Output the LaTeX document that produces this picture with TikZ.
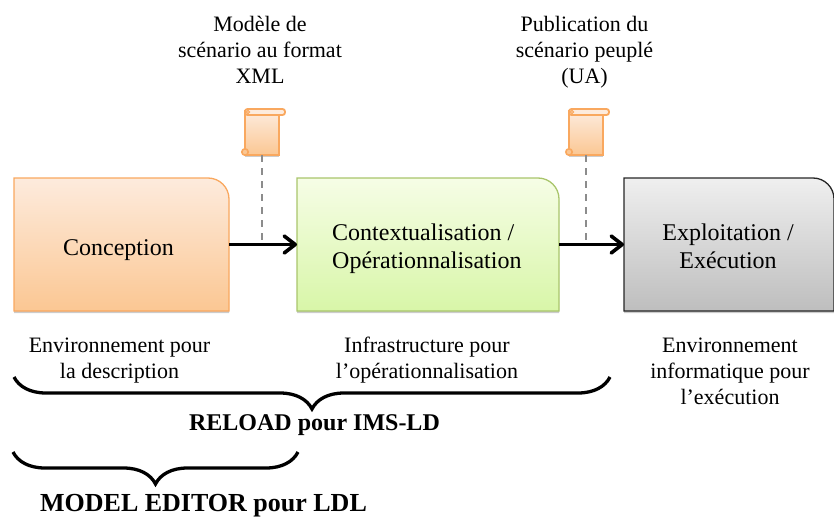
\documentclass[tikz,border=0pt]{standalone}
\usepackage{fontspec}
\setmainfont{Liberation Serif}
\usetikzlibrary{arrows.meta,positioning,shadows,decorations.pathreplacing}
\definecolor{orangeline}{HTML}{F9A85F}
\definecolor{orangetop}{HTML}{FDEBDD}
\definecolor{orangebot}{HTML}{FBC793}
\definecolor{greenline}{HTML}{A9C56B}
\definecolor{greentop}{HTML}{F6FDE6}
\definecolor{greenbot}{HTML}{D8F6A8}
\definecolor{greytop}{HTML}{EFEFEF}
\definecolor{greybot}{HTML}{BEBEBE}
\tikzset{%
stagebox/.style={
    rectangle, minimum height=133pt, inner sep=0pt, outer sep=0pt
},
stagetext/.style={
    align=center, inner sep=0pt,
    font=\fontsize{24}{28}\selectfont
},
captiontext/.style={
    align=center, inner sep=0pt,
    font=\fontsize{22}{26}\selectfont
},
toolname/.style={
    align=center, inner sep=0pt,
    font=\fontsize{24}{28}\selectfont\bfseries
},
flow/.style={
    line width=3.3pt, -{Straight Barb[length=11pt,width=17pt,line width=3.6pt,round]}
},
guide/.style={
    line width=2pt, dash pattern=on 7pt off 6pt, black!45
},
toolbrace/.style={
    line width=3.3pt, decorate,
    decoration={brace, mirror, amplitude=32pt, aspect=0.5}
},
softshadow/.style={
    drop shadow={shadow xshift=0pt, shadow yshift=-2pt, opacity=0.2, fill=black}
},
scrollicon/.pic={
    \draw [line width=1.8pt, orangeline, top color=orangetop, bottom color=orangebot, softshadow]
        (0,2) -- (34,2) -- (34,46) -- (0,46) -- cycle;
    \draw [line width=1.8pt, orangeline, fill=orangetop, rounded corners=2.5pt]
        (0,0) rectangle (40,6);
    \draw [line width=1.1pt, orangeline, fill=orangetop] (3,3) circle [radius=1.6pt];
    \draw [line width=1.6pt, orangeline, fill=orangebot] (0,43) circle [radius=3.2pt];
    \coordinate (-foot) at (16.5,46);
},
}
% outline of a stage, only the top right corner is round
\newcommand{\stageshape}[4]{
\draw [line width=1.3pt, draw=#2, top color=#3, bottom color=#4, softshadow]
    (#1.south west) -- (#1.north west) -- ([xshift=-21pt]#1.north east)
    arc [start angle=90, end angle=0, radius=21pt] -- (#1.south east) -- cycle;
}

\begin{document}
\begin{tikzpicture}[x=1pt,y=-1pt]
\useasboundingbox (0,0) rectangle (834,516);

\node (conception) [stagebox, minimum width=215pt] at (121.5,244.5) {};
\node (contextualisation) [stagebox, minimum width=262pt, right=68pt of conception] {};
\node (exploitation) [stagebox, minimum width=210pt, right=65pt of contextualisation] {};
\stageshape{conception}{orangeline}{orangetop}{orangebot}
\stageshape{contextualisation}{greenline}{greentop}{greenbot}
\stageshape{exploitation}{black!85}{greytop}{greybot}

\node (conception-label) [stagetext, xshift=-3pt, yshift=-5.5pt] at (conception) {Conception};
\node (contextualisation-label) [stagetext, align=left, anchor=west, xshift=35pt, yshift=-4pt] at (contextualisation.west) {Contextualisation /\\Opérationnalisation};
\node (exploitation-label) [stagetext, xshift=-1pt, yshift=-1.5pt] at (exploitation) {Exploitation /\\Exécution};

% scrolls above the arrows
\pic (scrollxml) at (245,109) {scrollicon};
\pic (scrollua) at (569,109) {scrollicon};
\draw [guide] (scrollxml-foot) -- (scrollxml-foot |- conception.east);
\draw [guide] (scrollua-foot) -- (scrollua-foot |- conception.east);
\draw [flow] (conception.east) -- (contextualisation.west);
\draw [flow] (contextualisation.east) -- (exploitation.west);

\node (xml-label) [captiontext] at (260,50) {Modèle de\\scénario au format\\XML};
\node (ua-label) [captiontext] at (584.5,52) {Publication du\\scénario peuplé\\(UA)};

\node (description-label) [captiontext] at (119.5,361) {Environnement pour\\la description};
\node (infra-label) [captiontext] at (427,360) {Infrastructure pour\\l’opérationnalisation};
\node (execution-label) [captiontext] at (730,371) {Environnement\\informatique pour\\l’exécution};

% braces
\coordinate (reload-a) at (14,377);
\coordinate (reload-b) at (610,377);
\coordinate (model-a) at (13,452);
\coordinate (model-b) at (298,452);
\draw [toolbrace] (reload-a) -- (reload-b);
\draw [toolbrace] (model-a) -- (model-b);
\node (reload-label) [toolname] at (314.5,425) {RELOAD pour IMS-LD};
\node (model-label) [toolname, font=\fontsize{26}{30}\selectfont\bfseries] at (203.5,506) {MODEL EDITOR pour LDL};
\end{tikzpicture}
\end{document}
